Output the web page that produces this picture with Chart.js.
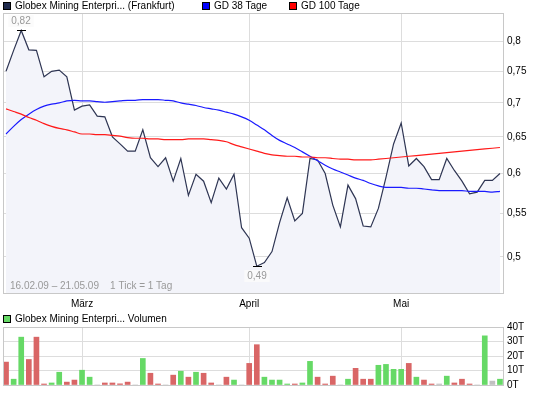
<!DOCTYPE html>
<html>
<head>
<meta charset="utf-8">
<script src="https://cdn.jsdelivr.net/npm/chart.js@4.4.1/dist/chart.umd.min.js"></script>
<style>
    body { margin: 0; background: #fff; font-family: "Liberation Sans", Arial, sans-serif; }
    #wrap { position: relative; width: 545px; height: 395px; overflow: hidden; }
    canvas { position: absolute; left: 0; }
    .lg { position: absolute; font-size: 10px; line-height: 12px; color: #000; white-space: nowrap; }
    .box { position: absolute; width: 6px; height: 6px; border: 1px solid #000; }
</style>
</head>
<body>
<div id="wrap">
    <canvas id="priceChart" width="545" height="310" style="top:0"></canvas>
    <canvas id="volumeChart" width="545" height="85" style="top:310px"></canvas>

    <div class="box" style="left:3px;top:2px;background:#1f2a4d"></div>
    <div class="lg" style="left:15px;top:0">Globex Mining Enterpri... (Frankfurt)</div>
    <div class="box" style="left:202px;top:2px;background:#0000ff"></div>
    <div class="lg" style="left:214px;top:0">GD 38 Tage</div>
    <div class="box" style="left:289px;top:2px;background:#ff0000"></div>
    <div class="lg" style="left:301px;top:0">GD 100 Tage</div>

    <div class="box" style="left:3px;top:315px;background:#66d966"></div>
    <div class="lg" style="left:15px;top:313px">Globex Mining Enterpri... Volumen</div>
</div>

<script>
// trading days, 16.02.09 - 21.05.09 (Frankfurt)
const febDays = [16, 17, 18, 19, 20, 23, 24, 25, 26, 27];
const marDays = [2, 3, 4, 5, 6, 9, 10, 11, 12, 13, 16, 17, 18, 19, 20, 23, 24, 25, 26, 27, 30, 31];
const aprDays = [1, 2, 3, 6, 7, 8, 9, 14, 15, 16, 17, 20, 21, 22, 23, 24, 27, 28, 29, 30];
const mayDays = [4, 5, 6, 7, 8, 11, 12, 13, 14, 15, 18, 19, 20, 21];
const monthNames = ['März', 'April', 'Mai'];

// closing price (EUR)
const price = [
    0.75, 0.785, 0.82, 0.786, 0.785, 0.741, 0.75, 0.752, 0.741, 0.689,
    0.695, 0.697, 0.68, 0.679, 0.65, 0.64, 0.63, 0.63, 0.66, 0.621,
    0.609, 0.621, 0.59, 0.62, 0.572, 0.599, 0.59, 0.563, 0.594, 0.58,
    0.599, 0.533, 0.521, 0.49, 0.494, 0.506, 0.539, 0.569, 0.541, 0.55,
    0.62, 0.618, 0.60, 0.56, 0.534, 0.585, 0.568, 0.535, 0.534, 0.556,
    0.595, 0.64, 0.67, 0.61, 0.62, 0.609, 0.592, 0.592, 0.62, 0.604,
    0.59, 0.574, 0.576, 0.591, 0.591, 0.60
];

// GD 38 Tage
const gd38 = [
    0.654, 0.665, 0.675, 0.683, 0.69, 0.695, 0.698, 0.700, 0.703, 0.704,
    0.703, 0.703, 0.702, 0.701, 0.702, 0.703, 0.704, 0.704, 0.705, 0.705,
    0.705, 0.704, 0.703, 0.700, 0.698, 0.696, 0.693, 0.691, 0.689, 0.686,
    0.683, 0.679, 0.674, 0.667, 0.66, 0.652, 0.645, 0.64, 0.635, 0.629,
    0.623, 0.617, 0.611, 0.606, 0.602, 0.598, 0.594, 0.591, 0.587, 0.584,
    0.582, 0.582, 0.582, 0.581, 0.581, 0.580, 0.579, 0.578, 0.578, 0.578,
    0.578, 0.577, 0.577, 0.577, 0.576, 0.577
];

// GD 100 Tage
const gd100 = [
    0.691, 0.687, 0.683, 0.678, 0.674, 0.669, 0.665, 0.662, 0.660, 0.657,
    0.654, 0.654, 0.653, 0.653, 0.652, 0.651, 0.649, 0.648, 0.648, 0.647,
    0.647, 0.646, 0.646, 0.646, 0.647, 0.647, 0.647, 0.646, 0.645, 0.643,
    0.639, 0.636, 0.633, 0.630, 0.627, 0.625, 0.624, 0.623, 0.623, 0.622,
    0.622, 0.621, 0.621, 0.620, 0.619, 0.619, 0.618, 0.618, 0.618, 0.619,
    0.620, 0.621, 0.622, 0.623, 0.624, 0.625, 0.626, 0.627, 0.628, 0.629,
    0.630, 0.631, 0.632, 0.633, 0.634, 0.635
];

// volume in thousands (T)
const volume = [
    15.8, 4, 33, 17.6, 33, 0.7, 1.4, 8.8, 2, 3.4,
    10.2, 5.4, 0, 1.4, 1.4, 0.8, 2, 0, 18.3, 8.1,
    0.7, 0, 6.8, 9.5, 5.4, 8.8, 8.1, 1.4, 0, 5.4,
    3.4, 0, 14.9, 27.8, 5.4, 3.4, 3.4, 0.7, 0.7, 1.4,
    16.3, 5.4, 0.7, 6.1, 0, 4, 11.5, 4, 4, 13.6,
    14.2, 10.8, 10.8, 14.9, 5.4, 3.4, 0.7, 0.7, 6.1, 1.4,
    4, 0.7, 0, 33.9, 2.7, 4
];

// day direction: 1 up, -1 down, 0 unchanged
const volumeDir = [
    -1, 1, 1, -1, -1, -1, 1, 1, -1, -1,
    1, 1, 0, -1, -1, -1, -1, 0, 1, -1,
    -1, 0, -1, 1, -1, 1, -1, -1, 0, -1,
    1, 0, -1, -1, 1, 1, 1, 1, -1, 1,
    1, -1, -1, -1, 0, 1, -1, -1, -1, 1,
    1, 1, 1, -1, 1, -1, -1, 0, 1, -1,
    -1, -1, 0, 1, 0, 1
];

const priceTicks = [0.5, 0.55, 0.6, 0.65, 0.7, 0.75, 0.8];
const volumeTicks = [0, 10, 20, 30, 40];

const pad = n => (n < 10 ? '0' : '') + n;
const days = [];
[[febDays, 2], [marDays, 3], [aprDays, 4], [mayDays, 5]].forEach(([list, m]) => {
    list.forEach(d => days.push(pad(d) + '.' + pad(m) + '.09'));
});
// first trading day of each labelled month
const monthStart = [febDays.length, febDays.length + marDays.length,
    febDays.length + marDays.length + aprDays.length];

const xMin = -0.4, xMax = days.length - 1 + 0.4;
const gridColor = '#dddddd';
const tickFont = { family: '"Liberation Sans", Arial, sans-serif', size: 10 };
const comma = v => String(v).replace('.', ',');
const toXY = arr => arr.map((v, i) => ({ x: i, y: v }));

const framePlugin = {
    id: 'frame',
    afterDraw(chart) {
        const { ctx, chartArea: a } = chart;
        ctx.save();
        ctx.strokeStyle = '#c8c8c8';
        ctx.lineWidth = 1;
        ctx.strokeRect(a.left + 0.5, a.top + 0.5, a.right - a.left, a.bottom - a.top);
        ctx.restore();
    }
};

// high / low markers and the date range note
const notesPlugin = {
    id: 'notes',
    afterDatasetsDraw(chart) {
        const { ctx, chartArea: a, scales } = chart;
        const hi = price.indexOf(Math.max(...price));
        const lo = price.indexOf(Math.min(...price));
        ctx.save();
        ctx.font = '10px "Liberation Sans", Arial, sans-serif';
        ctx.textAlign = 'center';
        ctx.textBaseline = 'middle';
        [[hi, -9], [lo, 10]].forEach(([i, dy]) => {
            const px = Math.round(scales.x.getPixelForValue(i));
            const py = Math.round(scales.y.getPixelForValue(price[i]));
            ctx.strokeStyle = '#000';
            ctx.lineWidth = 1;
            ctx.beginPath();
            ctx.moveTo(px - 4, py + 0.5);
            ctx.lineTo(px + 5, py + 0.5);
            ctx.stroke();
            const txt = comma(price[i]);
            const w = ctx.measureText(txt).width + 6;
            ctx.fillStyle = 'rgba(250,250,250,0.85)';
            ctx.fillRect(px - w / 2, py + dy - 6, w, 12);
            ctx.fillStyle = '#999';
            ctx.fillText(txt, px, py + dy);
        });
        ctx.textAlign = 'left';
        ctx.fillStyle = '#999';
        ctx.fillText(days[0] + ' \u2013 ' + days[days.length - 1] + '    1 Tick = 1 Tag', a.left + 7, a.bottom - 7);
        ctx.restore();
    }
};

const monthAxis = (showLabels, height) => ({
    type: 'linear',
    min: xMin,
    max: xMax,
    offset: false,
    afterBuildTicks: axis => { axis.ticks = monthStart.map(v => ({ value: v })); },
    afterFit: axis => { axis.height = height; },
    grid: { color: gridColor, drawTicks: false, offset: false },
    border: { display: false },
    ticks: {
        display: showLabels,
        autoSkip: false,
        maxRotation: 0,
        padding: 5,
        color: '#000',
        font: tickFont,
        callback: v => monthNames[monthStart.indexOf(v)]
    }
});

new Chart(document.getElementById('priceChart').getContext('2d'), {
    type: 'line',
    data: {
        datasets: [{
            label: 'Globex Mining Enterpri... (Frankfurt)',
            data: toXY(price),
            borderColor: '#2e3553',
            backgroundColor: '#f3f4fa',
            borderWidth: 1.2,
            fill: 'start',
            pointRadius: 0,
            tension: 0,
            order: 3
        }, {
            label: 'GD 38 Tage',
            data: toXY(gd38),
            borderColor: '#1a1aff',
            borderWidth: 1.2,
            fill: false,
            pointRadius: 0,
            cubicInterpolationMode: 'monotone',
            order: 2
        }, {
            label: 'GD 100 Tage',
            data: toXY(gd100),
            borderColor: '#ff1a1a',
            borderWidth: 1.2,
            fill: false,
            pointRadius: 0,
            cubicInterpolationMode: 'monotone',
            order: 1
        }]
    },
    options: {
        responsive: false,
        animation: false,
        layout: { padding: { left: 3, top: 13, right: 0, bottom: 0 } },
        plugins: { legend: { display: false }, tooltip: { enabled: false } },
        scales: {
            x: monthAxis(true, 17),
            y: {
                type: 'logarithmic',
                position: 'right',
                min: 0.4622,
                max: 0.8518,
                afterBuildTicks: axis => { axis.ticks = priceTicks.map(v => ({ value: v })); },
                afterFit: axis => { axis.width = 42; },
                grid: { color: gridColor, drawTicks: false },
                border: { display: false },
                ticks: { padding: 4, color: '#000', font: tickFont, callback: v => comma(v) }
            }
        }
    },
    plugins: [framePlugin, notesPlugin]
});

const dirColors = { '1': '#66d966', '-1': '#d96666', '0': '#c0c0c0' };

new Chart(document.getElementById('volumeChart').getContext('2d'), {
    type: 'bar',
    data: {
        datasets: [{
            label: 'Globex Mining Enterpri... Volumen',
            data: toXY(volume),
            backgroundColor: volumeDir.map(d => dirColors[d]),
            borderWidth: 0,
            barThickness: 5,
            grouped: false
        }]
    },
    options: {
        responsive: false,
        animation: false,
        layout: { padding: { left: 3, top: 17, right: 0, bottom: 0 } },
        plugins: { legend: { display: false }, tooltip: { enabled: false } },
        scales: {
            x: monthAxis(false, 9),
            y: {
                type: 'linear',
                position: 'right',
                min: 0,
                max: 40,
                afterBuildTicks: axis => { axis.ticks = volumeTicks.map(v => ({ value: v })); },
                afterFit: axis => { axis.width = 42; },
                grid: { color: gridColor, drawTicks: false },
                border: { display: false },
                ticks: { padding: 4, color: '#000', font: tickFont, callback: v => v + 'T' }
            }
        }
    },
    plugins: [framePlugin]
});
</script>
</body>
</html>
